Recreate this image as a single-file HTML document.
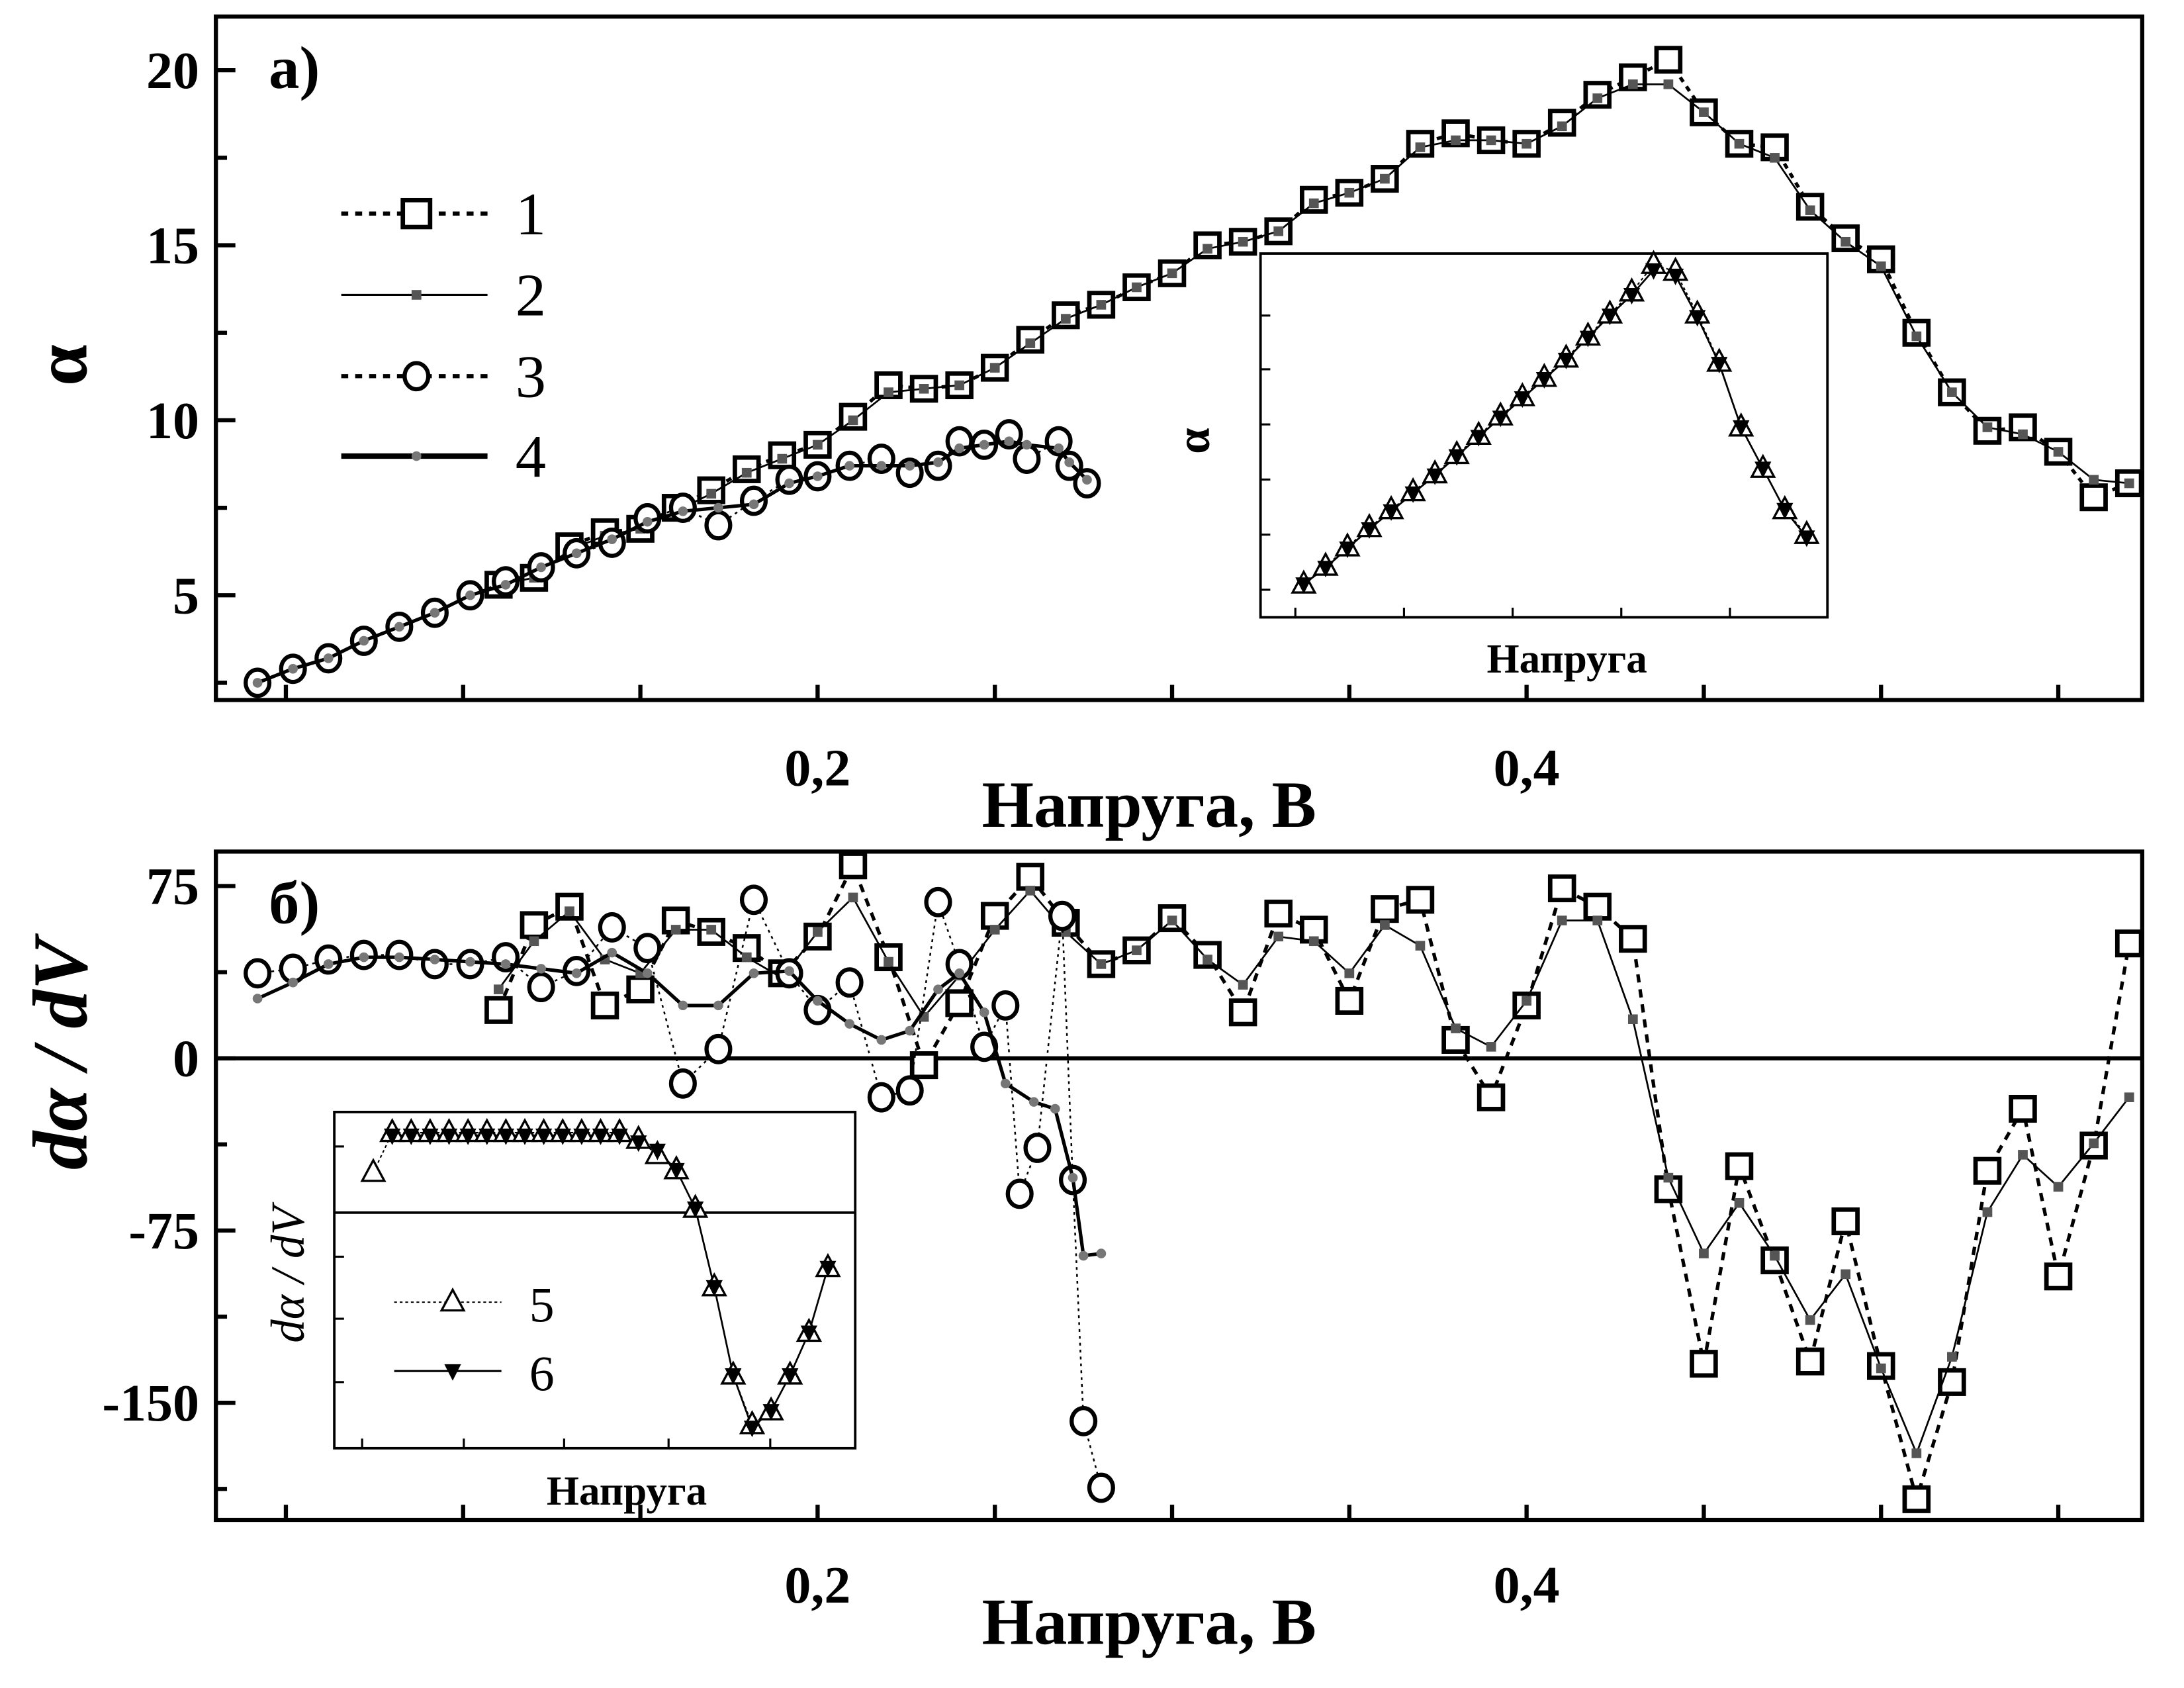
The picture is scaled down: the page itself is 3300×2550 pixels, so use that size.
<!DOCTYPE html>
<html><head><meta charset="utf-8"><style>html,body{margin:0;padding:0;background:#fff}svg{display:block}text{font-family:"Liberation Serif","DejaVu Serif",serif}</style></head>
<body>
<svg id="chart" width="3300" height="2550" viewBox="0 0 1568 1225" preserveAspectRatio="none" xmlns="http://www.w3.org/2000/svg"></svg>
<script>
// ---- data: panel a ----
const vA1 = [0.11,0.12,0.13,0.14,0.15,0.16,0.17,0.18,0.19,0.20,0.21,0.22,0.23,0.24,0.25,0.26,0.27,0.28,0.29,0.30,0.31,0.32,0.33,0.34,0.35,0.36,0.37,0.38,0.39,0.40,0.41,0.42,0.43,0.44,0.45,0.46,0.47,0.48,0.49,0.50,0.51,0.52,0.53,0.54,0.55,0.56,0.57];
const alpha1 = [5.3,5.5,6.4,6.8,6.9,7.5,8.0,8.6,9.0,9.3,10.1,11.0,10.9,11.0,11.5,12.3,13.0,13.3,13.8,14.2,15.0,15.1,15.4,16.3,16.5,16.9,17.9,18.2,18.0,17.9,18.5,19.3,19.8,20.3,18.8,17.9,17.8,16.1,15.2,14.6,12.5,10.8,9.7,9.8,9.1,7.8,8.2];
const alpha2 = [5.3,5.5,6.3,6.7,6.9,7.4,7.9,8.5,8.9,9.3,10.0,10.8,10.9,11.0,11.5,12.2,12.9,13.3,13.8,14.2,14.9,15.1,15.4,16.2,16.5,16.9,17.8,18.0,18.0,17.9,18.4,19.2,19.6,19.6,18.8,17.9,17.5,16.0,15.1,14.4,12.4,10.8,9.8,9.6,9.1,8.3,8.2];
const vA3 = [0.042,0.052,0.062,0.072,0.082,0.092,0.102,0.112,0.122,0.132,0.142,0.152,0.162,0.172,0.182,0.192,0.2,0.209,0.218,0.226,0.234,0.240,0.247,0.254,0.259,0.268,0.271,0.276];
const alpha3 = [2.5,2.9,3.2,3.7,4.1,4.5,5.0,5.4,5.8,6.2,6.5,7.2,7.5,7.0,7.7,8.3,8.4,8.7,8.9,8.5,8.7,9.4,9.3,9.6,8.9,9.4,8.7,8.2];
const alpha4 = [2.5,2.9,3.2,3.7,4.1,4.5,5.0,5.3,5.8,6.2,6.6,7.1,7.4,7.5,7.6,8.2,8.4,8.7,8.7,8.7,8.8,9.2,9.3,9.4,9.3,9.2,8.8,8.3];
// inset a (arbitrary units)
const insAx = [0,1,2,3,4,5,6,7,8,9,10,11,12,13,14,15,16,17,18,19,20,21,22,23];
const insA5 = [0,13,27,41,54,67,80,94,108,122,136,150,164,180,196,212,232,227,196,161,114,84,54,36];
const insA6 = [0,12,26,40,53,66,79,93,107,121,135,149,163,179,195,210,228,224,194,160,114,84,54,34];
// ---- data: panel b ----
const dadv1 = [21,58,66,23,30,60,55,48,37,53,84,44,-3,24,62,79,59,41,47,61,45,20,63,56,25,65,69,8,-17,23,74,66,52,-57,-133,-47,-88,-132,-71,-134,-192,-141,-49,-22,-95,-38,50];
const dadv2 = [30,51,64,43,37,56,56,44,35,55,70,42,18,36,56,73,55,41,47,60,43,32,53,51,37,58,49,13,5,25,60,60,17,-52,-85,-63,-86,-114,-94,-135,-172,-130,-67,-42,-56,-37,-17];
const vB3 = [0.042,0.052,0.062,0.072,0.082,0.092,0.102,0.112,0.122,0.132,0.142,0.152,0.162,0.172,0.182,0.192,0.2,0.209,0.218,0.226,0.234,0.240,0.247,0.253,0.257,0.262,0.269,0.272,0.275,0.28];
const dadv3 = [37,39,43,45,45,41,41,44,31,38,57,48,-11,4,69,37,21,33,-17,-14,68,41,5,23,-59,-39,62,-53,-158,-187];
const vB4 = [0.042,0.052,0.062,0.072,0.082,0.092,0.102,0.112,0.122,0.132,0.142,0.152,0.162,0.172,0.182,0.192,0.2,0.209,0.218,0.226,0.234,0.240,0.247,0.253,0.261,0.267,0.272,0.275,0.28];
const dadv4 = [26,33,41,44,44,43,42,41,39,37,46,37,23,23,37,38,25,15,8,12,30,37,20,-11,-19,-22,-52,-86,-85];
// inset b
const insBx = [0,1,2,3,4,5,6,7,8,9,10,11,12,13,14,15,16,17,18,19,20,21,22,23,24];
const insB5 = [29,58,58,58,58,58,58,58,58,58,58,58,58,58,53,42,31,3,-54,-118,-154,-144,-118,-87,-40];
const insB6 = [null,56,56,56,56,56,56,56,56,56,56,56,56,56,51,45,31,3,-54,-118,-156,-144,-118,-87,-40];
const xTickLabels = ["0,2","0,4"];
const xTickVals = [0.2,0.4];
const yTicksA = [5,10,15,20];
const yTicksB = [75,0,-75,-150];

// ---- axes ----
const xS = v => 587 + (v - 0.2) * 2545;
const yA = v => 432 - (v - 5) * 25.4;
const yB = v => 768 - v * 1.6667;
const insAX = i => 936 + i * 15.7;
const insAY = v => 424 - v * 1.0;
const insBX = i => 268 + i * 13.6;
const insBY = v => 880 - v * 1.0;

const NS = "http://www.w3.org/2000/svg";
const svg = document.getElementById('chart');
function el(tag, attrs, parent) {
  const e = document.createElementNS(NS, tag);
  for (const k in attrs) e.setAttribute(k, attrs[k]);
  (parent || svg).appendChild(e);
  return e;
}
function txt(s, attrs, name) {
  const t = el('text', attrs);
  t.textContent = s;
  
  
  return t;
}
function poly(xs, ys, fx, fy, style, name) {
  const pts = [];
  for (let i = 0; i < ys.length; i++) if (ys[i] !== null) pts.push(fx(xs[i]).toFixed(1) + ',' + fy(ys[i]).toFixed(1));
  const p = el('polyline', Object.assign({points: pts.join(' '), fill: 'none', stroke: '#000'}, style));
  
  
  return p;
}
function marker(kind, cx, cy, name, sz) {
  let m;
  const s = sz || 1;
  if (kind === 'sq') m = el('rect', {x: cx - 8.5*s, y: cy - 8.5*s, width: 17*s, height: 17*s, fill: '#fff', stroke: '#000', 'stroke-width': 3.2});
  else if (kind === 'fsq') m = el('rect', {x: cx - 3.5, y: cy - 3.5, width: 7, height: 7, fill: '#555'});
  else if (kind === 'circ') m = el('ellipse', {cx: cx, cy: cy, rx: 8.5, ry: 9.5, fill: '#fff', stroke: '#000', 'stroke-width': 3});
  else if (kind === 'dot') m = el('circle', {cx: cx, cy: cy, r: 3.5, fill: '#777'});
  else if (kind === 'tri') m = el('polygon', {points: `${cx},${cy-9} ${cx-8},${cy+6} ${cx+8},${cy+6}`, fill: '#fff', stroke: '#000', 'stroke-width': 1.6});
  else if (kind === 'dtri') m = el('polygon', {points: `${cx},${cy+7} ${cx-6},${cy-5} ${cx+6},${cy-5}`, fill: '#000'});
  
  
  return m;
}
function series(xs, ys, fx, fy, style, kind, name) {
  poly(xs, ys, fx, fy, style, name + '-line');
  for (let i = 0; i < ys.length; i++) if (ys[i] !== null) marker(kind, fx(xs[i]), fy(ys[i]), name + '-point');
}
function frame(x1, y1, x2, y2, w, name) {
  const r = el('rect', {x: x1, y: y1, width: x2 - x1, height: y2 - y1, fill: 'none', stroke: '#000', 'stroke-width': w});
  
  
}
function tick(x1, y1, x2, y2, name, w) {
  const l = el('line', {x1, y1, x2, y2, stroke: '#000', 'stroke-width': w || 3});
  
  
}

// ===== Panel a =====
frame(155, 12, 1538, 508, 3, 'panel-a-frame');
for (let v = 0.05; v < 0.6; v += 0.05) { const x = xS(v); tick(x, 508, x, 497, 'x-tick-a'); tick(x, 1103, x, 1092, 'x-tick-b'); }
for (let v = 2.5; v <= 20.01; v += 2.5) { const y = yA(v); tick(155, y, (v % 5 === 0) ? 169 : 163, y, 'y-tick-a'); }
yTicksA.forEach(v => txt(String(v), {x: 143, y: yA(v) + 13, 'text-anchor': 'end', 'font-size': 38, 'font-weight': 'bold'}, 'y-tick-label-a'));
xTickVals.forEach((v, i) => { txt(xTickLabels[i], {x: xS(v), y: 570, 'text-anchor': 'middle', 'font-size': 38, 'font-weight': 'bold'}, 'x-tick-label-a'); txt(xTickLabels[i], {x: xS(v), y: 1163, 'text-anchor': 'middle', 'font-size': 38, 'font-weight': 'bold'}, 'x-tick-label-b'); });
txt('Напруга,  B', {x: 825, y: 600, 'text-anchor': 'middle', 'font-size': 48, 'font-weight': 'bold', 'xml:space': 'preserve'}, 'x-axis-title-a');
txt('α', {x: 0, y: 0, transform: 'translate(62,265) rotate(-90)', 'text-anchor': 'middle', 'font-size': 54, 'font-weight': 'bold'}, 'y-axis-title-a');
txt('а)', {x: 193, y: 64, 'font-size': 44, 'font-weight': 'bold'}, 'panel-a-label');

series(vA1, alpha1, xS, yA, {'stroke-width': 2.5, 'stroke-dasharray': '4,4'}, 'sq', 'series-1');
series(vA1, alpha2, xS, yA, {'stroke-width': 1.3}, 'fsq', 'series-2');
series(vA3, alpha3, xS, yA, {'stroke-width': 1.3, 'stroke-dasharray': '2,3'}, 'circ', 'series-3');
series(vA3, alpha4, xS, yA, {'stroke-width': 2.5}, 'dot', 'series-4');

// legend a
const legY = [155, 214, 273, 331];
const legKinds = ['sq', 'fsq', 'circ', 'dot'];
const legStyles = [{'stroke-width': 3, 'stroke-dasharray': '5,5'}, {'stroke-width': 1.5}, {'stroke-width': 3, 'stroke-dasharray': '5,5'}, {'stroke-width': 4}];
legY.forEach((y, i) => {
  const l = el('line', Object.assign({x1: 245, y1: y, x2: 350, y2: y, stroke: '#000'}, legStyles[i]));
  
  
  marker(legKinds[i], 299, y, 'legend-marker-' + (i + 1), 1.15);
  txt(String(i + 1), {x: 370, y: y + 15, 'font-size': 44}, 'legend-label-' + (i + 1));
});

// inset a
frame(905, 184, 1312, 448, 1.8, 'inset-a-frame');
[930, 1008, 1086, 1164, 1242].forEach(x => tick(x, 448, x, 441, 'inset-a-x-tick', 1.5));
[229, 268, 308, 348, 388, 428].forEach(y => tick(905, y, 912, y, 'inset-a-y-tick', 1.5));
poly(insAx, insA5, insAX, insAY, {'stroke-width': 1, 'stroke-dasharray': '2,2'}, 'series-5-inset-a-line');
poly(insAx, insA6, insAX, insAY, {'stroke-width': 1.3}, 'series-6-inset-a-line');
insAx.forEach((x, i) => { marker('tri', insAX(x), insAY(insA5[i]), 'series-5-inset-a-point'); marker('dtri', insAX(x), insAY(insA6[i]), 'series-6-inset-a-point'); });
txt('Напруга', {x: 1125, y: 488, 'text-anchor': 'middle', 'font-size': 30, 'font-weight': 'bold'}, 'inset-a-x-title');
txt('α', {x: 0, y: 0, transform: 'translate(868,320) rotate(-90)', 'text-anchor': 'middle', 'font-size': 34, 'font-weight': 'bold'}, 'inset-a-y-title');

// ===== Panel b =====
frame(155, 618, 1538, 1103, 3, 'panel-b-frame');
tick(155, 768, 1538, 768, 'zero-line', 3);
for (let v = -187.5; v <= 75.01; v += 37.5) { const y = yB(v); tick(155, y, (v % 75 === 0) ? 169 : 163, y, 'y-tick-b'); }
yTicksB.forEach(v => txt(String(v), {x: 143, y: yB(v) + 13, 'text-anchor': 'end', 'font-size': 38, 'font-weight': 'bold'}, 'y-tick-label-b'));
txt('Напруга,  B', {x: 825, y: 1193, 'text-anchor': 'middle', 'font-size': 48, 'font-weight': 'bold', 'xml:space': 'preserve'}, 'x-axis-title-b');
txt('dα / dV', {x: 0, y: 0, transform: 'translate(62,765) rotate(-90)', 'text-anchor': 'middle', 'font-size': 56, 'font-weight': 'bold', 'font-style': 'italic', 'xml:space': 'preserve'}, 'y-axis-title-b');
txt('б)', {x: 193, y: 670, 'font-size': 44, 'font-weight': 'bold'}, 'panel-b-label');

series(vA1, dadv1, xS, yB, {'stroke-width': 2.5, 'stroke-dasharray': '6,5'}, 'sq', 'series-1-deriv');
series(vA1, dadv2, xS, yB, {'stroke-width': 1.3}, 'fsq', 'series-2-deriv');
series(vB3, dadv3, xS, yB, {'stroke-width': 1.2, 'stroke-dasharray': '2,3'}, 'circ', 'series-3-deriv');
series(vB4, dadv4, xS, yB, {'stroke-width': 2.5}, 'dot', 'series-4-deriv');

// inset b
const ib = el('rect', {x: 240, y: 807, width: 374, height: 244, fill: '#fff', stroke: '#000', 'stroke-width': 1.8});


tick(240, 880, 614, 880, 'inset-b-zero-line', 1.8);
[260, 333, 405, 480, 553].forEach(x => tick(x, 1051, x, 1044, 'inset-b-x-tick', 1.5));
[832, 912, 957, 1003].forEach(y => tick(240, y, 247, y, 'inset-b-y-tick', 1.5));
poly(insBx, insB5, insBX, insBY, {'stroke-width': 1, 'stroke-dasharray': '2,2'}, 'series-5-inset-b-line');
poly(insBx, insB6, insBX, insBY, {'stroke-width': 1.3}, 'series-6-inset-b-line');
insBx.forEach((x, i) => { marker('tri', insBX(x), insBY(insB5[i]), 'series-5-inset-b-point'); if (insB6[i] !== null) marker('dtri', insBX(x), insBY(insB6[i]), 'series-6-inset-b-point'); });
txt('Напруга', {x: 450, y: 1092, 'text-anchor': 'middle', 'font-size': 30, 'font-weight': 'bold'}, 'inset-b-x-title');
txt('dα / dV', {x: 0, y: 0, transform: 'translate(218,925) rotate(-90)', 'text-anchor': 'middle', 'font-size': 34, 'font-style': 'italic', 'xml:space': 'preserve'}, 'inset-b-y-title');
// legend b
const l5 = el('line', {x1: 283, y1: 945, x2: 360, y2: 945, stroke: '#000', 'stroke-width': 1, 'stroke-dasharray': '2,2'});


marker('tri', 325, 945, 'legend-marker-5');
txt('5', {x: 380, y: 959, 'font-size': 36}, 'legend-label-5');
const l6 = el('line', {x1: 283, y1: 995, x2: 360, y2: 995, stroke: '#000', 'stroke-width': 1.5});


marker('dtri', 325, 995, 'legend-marker-6');
txt('6', {x: 380, y: 1009, 'font-size': 36}, 'legend-label-6');
</script>
</body></html>
